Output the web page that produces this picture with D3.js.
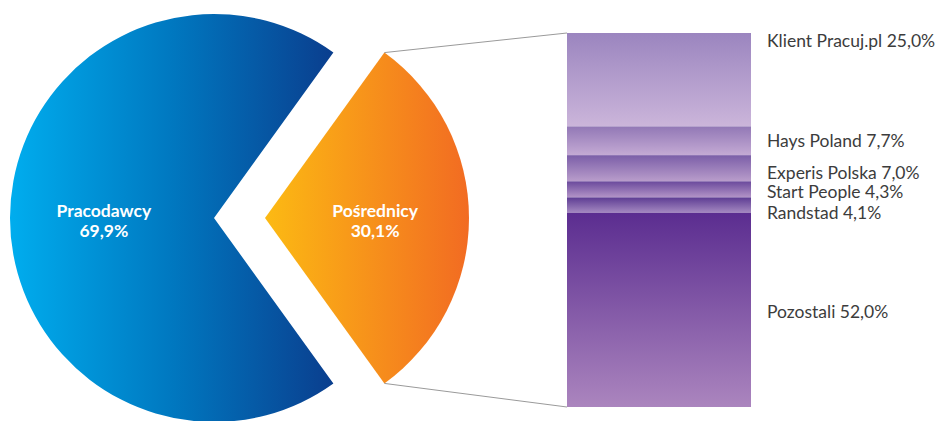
<!DOCTYPE html>
<html>
<head>
<meta charset="utf-8">
<script src="https://cdn.jsdelivr.net/npm/d3@7"></script>
<style>
  body { margin: 0; background: #fff; }
  svg { display: block; }
  text { font-family: Lato, "Open Sans", sans-serif; }
</style>
</head>
<body>
<svg width="944" height="421"></svg>
<script>
// pie: main split
const pieNames = ["Pośrednicy", "Pracodawcy"];
const pieValues = [30.1, 69.9];
const pieLabels = ["30,1%", "69,9%"];

// bar: breakdown of "Pośrednicy"
const barNames = ["Klient Pracuj.pl", "Hays Poland", "Experis Polska", "Start People", "Randstad", "Pozostali"];
const barValues = [25.0, 7.7, 7.0, 4.3, 4.1, 52.0];
const barLabels = ["25,0%", "7,7%", "7,0%", "4,3%", "4,1%", "52,0%"];

const width = 944, height = 421;
const svg = d3.select("svg");
const defs = svg.append("defs");

// gradients
function linGrad(id, x2, y2, stops) {
    const g = defs.append("linearGradient")
        .attr("id", id)
        .attr("x1", 0).attr("y1", 0)
        .attr("x2", x2).attr("y2", y2);
    stops.forEach((c, i) => g.append("stop")
        .attr("offset", i / (stops.length - 1))
        .attr("stop-color", c));
}
linGrad("grad-blue", 1, 0, ["#00adee", "#0078c0", "#0a3e8e"]);
linGrad("grad-orange", 1, 0, ["#fcba13", "#f26b22"]);

const barColors = [
    ["#9b85bf", "#cbb5da"],
    ["#9278b6", "#c4aad4"],
    ["#7b5ea8", "#b99dcb"],
    ["#6a499c", "#b394c7"],
    ["#5d3c93", "#a589c1"],
    ["#5b2d90", "#ab85be"]
];
barColors.forEach((c, i) => linGrad("grad-bar-" + i, 0, 1, c));

// pie layout: orange slice centred on the right
const orangeSpan = 2 * Math.PI * pieValues[0] / d3.sum(pieValues);
const pie = d3.pie().sort(null).value(d => d)
    .startAngle(Math.PI / 2 - orangeSpan / 2)
    .endAngle(Math.PI / 2 - orangeSpan / 2 + 2 * Math.PI);
const arcs = pie(pieValues);

const radius = 204;
const cx = 214, cy = 218;
const explode = 51;
const arc = d3.arc().innerRadius(0).outerRadius(radius);
const labelArc = d3.arc().innerRadius(0).outerRadius(radius * 1.08);
const fills = ["url(#grad-orange)", "url(#grad-blue)"];
const offsets = [explode, 0];

const slices = svg.selectAll(".slice")
    .data(arcs)
    .enter().append("g")
    .attr("class", "slice")
    .attr("transform", (d, i) => `translate(${cx + offsets[i]},${cy})`);

slices.append("path")
    .attr("d", arc)
    .attr("fill", (d, i) => fills[i]);

slices.append("text")
    .attr("text-anchor", "middle")
    .attr("fill", "#fff")
    .style("font-weight", "bold")
    .style("font-size", "17.5px")
    .each(function(d, i) {
        const [x, y] = labelArc.centroid(d);
        const t = d3.select(this);
        t.append("tspan").attr("x", x).attr("y", y - 1).text(pieNames[i]);
        t.append("tspan").attr("x", x).attr("y", y + 19).text(pieLabels[i]);
    });

// bar
const barX = 567, barW = 184, barTop = 33, barBottom = 407;
const y = d3.scaleLinear()
    .domain([0, d3.sum(barValues)])
    .range([barTop, barBottom]);
const cum = d3.cumsum([0, ...barValues]);

svg.selectAll(".seg")
    .data(barValues)
    .enter().append("rect")
    .attr("class", "seg")
    .attr("x", barX)
    .attr("y", (d, i) => y(cum[i]))
    .attr("width", barW)
    .attr("height", d => y(d) - y(0))
    .attr("fill", (d, i) => "url(#grad-bar-" + i + ")");

// connector lines from orange slice tips to bar corners
const o = arcs[0];
const ox = cx + explode, oy = cy;
const tip = a => [ox + radius * Math.sin(a), oy - radius * Math.cos(a)];
const tTop = tip(o.startAngle), tBot = tip(o.endAngle);
svg.append("line")
    .attr("x1", tTop[0]).attr("y1", tTop[1])
    .attr("x2", barX).attr("y2", barTop)
    .attr("stroke", "#9a9a9a").attr("stroke-width", 1);
svg.append("line")
    .attr("x1", tBot[0]).attr("y1", tBot[1])
    .attr("x2", barX).attr("y2", barBottom)
    .attr("stroke", "#9a9a9a").attr("stroke-width", 1);

// bar labels, mostly at segment middle; first one sits at top
const labelNudge = [-39, 0, 5, 3, 7.5, 2.5];
svg.selectAll(".seg-label")
    .data(barValues)
    .enter().append("text")
    .attr("class", "seg-label")
    .attr("x", barX + barW + 16)
    .attr("y", (d, i) => (y(cum[i]) + y(cum[i + 1])) / 2 + 6 + labelNudge[i])
    .attr("fill", "#3c3c3c")
    .style("font-size", "17.5px")
    .text((d, i) => barNames[i] + " " + barLabels[i]);
</script>
</body>
</html>
